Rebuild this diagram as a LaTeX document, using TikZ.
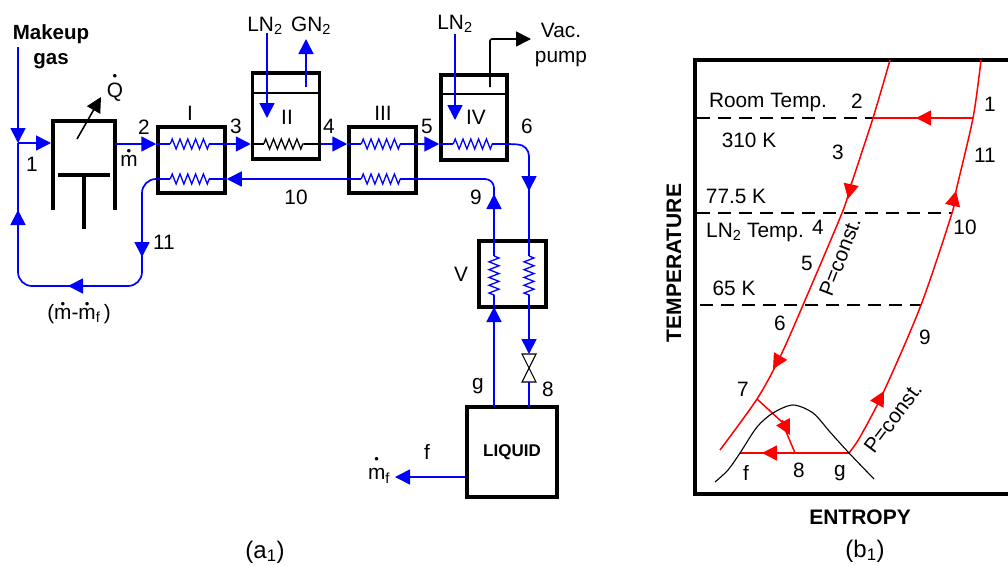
\documentclass[tikz,border=0pt]{standalone}
\usepackage{fontspec}
\setmainfont{Liberation Sans}
\usetikzlibrary{arrows.meta,decorations.pathmorphing}

\newcommand{\dotover}[2]{\ooalign{#2\cr\hfil\raisebox{#1}{\fontsize{13}{13}\selectfont\textbullet}\hfil\cr}}

\tikzset{
  every node/.style={font=\fontsize{20.8}{25}\selectfont,inner sep=0pt,align=center},
  tip/.style={-{Triangle[length=15pt,width=15pt]}},
  flow/.style={blue,line width=1.7pt},
  thick box/.style={draw,line width=3.5pt,minimum width=#1,inner sep=0pt},
  coil/.style={decorate,line width=1.3pt,decoration={zigzag,segment length=7.8pt,amplitude=5pt}},
  wire/.style={black,line width=3.5pt},
  fine/.style={black,line width=1.1pt},
  curve/.style={red,line width=1.5pt},
  level/.style={black,line width=1.1pt,dash pattern=on 13pt off 8pt},
  caption/.style={font=\fontsize{24}{28}\selectfont},
  axis name/.style={font=\bfseries\fontsize{21}{24}\selectfont},
}

\begin{document}
\begin{tikzpicture}[x=1pt,y=-1pt]
\useasboundingbox (0,0) rectangle (1008,565);

\node[thick box=67pt,minimum height=66pt] (hxI) at (191.5,160) {};
\node[thick box=67pt,minimum height=86pt] (bathII) at (286,116) {};
\node[thick box=67pt,minimum height=66pt] (hxIII) at (382.5,160) {};
\node[thick box=66pt,minimum height=85pt] (bathIV) at (474,117.5) {};
\node[thick box=67pt,minimum height=66pt] (hxV) at (512.5,274) {};
\node[thick box=90pt,minimum height=90pt,font=\bfseries\fontsize{17}{20}\selectfont] (liquid) at (512,452) {LIQUID};

\draw[wire] (53,210) -- (53,121) -- (115,121) -- (115,210);
\draw[wire] (58,175) -- (110,175);
\draw[wire] (84,175) -- (84,229);
\draw[fine,line width=1.6pt,tip] (77,139) -- (101,97);

\coordinate (m1) at (18,47);
\coordinate (j1) at (18,143);
\coordinate (c1) at (51,143);
\coordinate (c2) at (115,144);
\coordinate (i2) at (hxI.west |- c2);
\coordinate (i3) at (hxI.east |- c2);
\coordinate (i10) at (hxI.east |- 0,179);
\coordinate (i11) at (hxI.west |- 0,179);
\coordinate (b11) at (142,286);
\coordinate (b1) at (18,286);

\draw[flow,tip] (m1) -- (j1);
\draw[flow,tip] (j1) -- (c1);
\draw[flow,tip] (c2) -- (i2);
\draw[flow,rounded corners=14pt] (i11) -- (142,179) -- (b11) -- (b1) -- (j1);
\draw[flow,tip] (142,240) -- (142,257);
\draw[flow,tip] (90,286) -- (68,286);
\draw[flow,tip] (18,225) -- (18,210);

\draw[flow] (i2) -- ++(14,0) coordinate (a);
\draw[flow,coil] (a) -- ++(39,0) coordinate (a);
\draw[flow] (a) -- (i3);
\draw[flow] (i11) -- ++(14,0) coordinate (a);
\draw[flow,coil] (a) -- ++(39,0) coordinate (a);
\draw[flow] (a) -- (i10);

\coordinate (ii3) at (bathII.west |- c2);
\coordinate (ii4) at (bathII.east |- c2);
\draw[flow,tip] (i3) -- (ii3);
\draw[fine] (ii3) -- ++(13,0) coordinate (a);
\draw[fine,coil] (a) -- ++(40,0) coordinate (a);
\draw[fine] (a) -- (ii4);
\draw[fine] (bathII.west |- 0,93) -- (bathII.east |- 0,93);
\draw[flow,tip] (267,33) -- (267,118);
\draw[flow,tip] (306,87) -- (306,39);

\coordinate (iii4) at (hxIII.west |- c2);
\coordinate (iii5) at (hxIII.east |- c2);
\coordinate (iii10) at (hxIII.west |- 0,179);
\coordinate (iii9) at (hxIII.east |- 0,179);
\draw[flow,tip] (ii4) -- (iii4);
\draw[flow] (iii4) -- ++(14,0) coordinate (a);
\draw[flow,coil] (a) -- ++(39,0) coordinate (a);
\draw[flow] (a) -- (iii5);
\draw[flow] (iii10) -- ++(14,0) coordinate (a);
\draw[flow,coil] (a) -- ++(39,0) coordinate (a);
\draw[flow] (a) -- (iii9);
\draw[flow,tip] (iii10) -- (i10);

\coordinate (iv5) at (bathIV.west |- c2);
\coordinate (iv6) at (bathIV.east |- c2);
\draw[flow,tip] (iii5) -- (iv5);
\draw[flow] (iv5) -- ++(14,0) coordinate (a);
\draw[flow,coil] (a) -- ++(39,0) coordinate (a);
\draw[flow] (a) -- (iv6);
\draw[fine] (bathIV.west |- 0,94) -- (bathIV.east |- 0,94);
\draw[flow,tip] (455,34) -- (455,120);
\draw[fine,line width=1.6pt,tip,rounded corners=2pt] (490,87) -- (490,39) -- (531,39);

\coordinate (v9) at (494,241);
\coordinate (v6) at (529,241);
\coordinate (vg) at (494,307);
\coordinate (v8) at (529,307);
\draw[flow,rounded corners=11pt] (iv6) -- (529,145) -- (v6);
\draw[flow,tip] (529,170) -- (529,191);
\draw[flow,rounded corners=9pt] (v9) -- (494,179) -- (iii9);
\draw[flow,tip] (v9) -- (494,194);
\draw[flow] (v9) -- ++(0,15) coordinate (a);
\draw[flow,coil] (a) -- ++(0,39) coordinate (a);
\draw[flow] (a) -- (vg);
\draw[flow] (v6) -- ++(0,15) coordinate (a);
\draw[flow,coil] (a) -- ++(0,39) coordinate (a);
\draw[flow] (a) -- (v8);

\coordinate (lg) at (494,407);
\coordinate (l8) at (529,407);
\coordinate (valve) at (529,354);
\draw[flow,tip] (lg) -- (vg);
\draw[flow,tip] (v8) -- (valve);
\draw[fine] (522,354) -- (536,354) -- (522,382) -- (536,382) -- cycle;
\draw[flow] (529,382) -- (l8);
\coordinate (lf) at (liquid.west |- 0,477);
\coordinate (mf) at (395,477);
\draw[flow,tip] (lf) -- (mf);

\node[font=\bfseries\fontsize{20.5}{25}\selectfont] (makeup) at (51,46.5) {Makeup\\gas};
\node (qdot) at (115,90) {\dotover{16.5pt}{Q}};
\node (mdot) at (129,161) {\dotover{11pt}{m}};
\node (lbl1) at (32,164) {1};
\node (lbl2) at (144,127) {2};
\node (lbl3) at (236,126) {3};
\node (lbl4) at (329,126) {4};
\node (lbl5) at (427,126) {5};
\node (lbl6) at (527,126) {6};
\node (lbl9) at (476,197) {9};
\node (lbl10) at (296,197) {10};
\node (lbl11) at (164,242) {11};
\node (lblI) at (190,113) {I};
\node (lblII) at (287,117) {II};
\node (lblIII) at (383,113) {III};
\node (lblIV) at (476,117) {IV};
\node (lblV) at (461,274) {V};
\node (ln2a) at (265,26) {LN\textsubscript{2}};
\node (gn2) at (311,26) {GN\textsubscript{2}};
\node (ln2b) at (455,23.5) {LN\textsubscript{2}};
\node (vac) at (561,45.5) {Vac.\\pump};
\node (mflow) at (79,314) {(\dotover{11pt}{m}-\dotover{11pt}{m}\textsubscript{f}\,)};
\node (lblg) at (478,386) {g};
\node (lbl8) at (548,389) {8};
\node (lblf) at (427,452) {f};
\node (mfdot) at (379,476) {\dotover{16.5pt}{m}\textsubscript{f}};
\node[caption] (capa) at (265,552) {(a\textsubscript{1})};

\coordinate (ne) at (1008,60);
\coordinate (nw) at (695,60);
\coordinate (sw) at (695,494);
\coordinate (se) at (1008,494);
\draw[wire] (ne) -- (nw) -- (sw) -- (se);

\coordinate (t2) at (873,118);
\coordinate (t1) at (973,118);
\coordinate (t4) at (842,213);
\coordinate (t10) at (952,213);
\coordinate (t6) at (803,305);
\coordinate (t9) at (921,305);
\coordinate (t7) at (757,399);
\coordinate (tg) at (849,453);
\coordinate (tf) at (740,453);
\coordinate (t8) at (795,453);

\draw[level] (697,118) -- (t2);
\draw[level] (697,213) -- (t10);
\draw[level] (700,305) -- (t9);

\draw[curve] plot[smooth] coordinates {(890,60) (t2) (851,185) (t4) (t6) (780,357) (t7) (720,450)};
\draw[curve] plot[smooth] coordinates {(981,60) (t1) (956,191) (t10) (t9) (884,391) (860,437) (tg)};
\draw[curve] (t1) -- (t2);
\draw[curve,tip] (940,118) -- (916,118);
\draw[curve,tip] (851.5,183) -- (848,199);
\draw[curve,tip] (952.5,206) -- (956,191);
\draw[curve,tip] (780,357) -- (773,369);
\draw[curve,tip] (877,404) -- (884,391);
\draw[curve] (t7) -- (782,422) -- (t8);
\draw[curve,tip] (782,420) -- (790,435);
\draw[curve] (tg) -- (tf);
\draw[curve,tip] (790,453) -- (762,453);
\draw[fine] plot[smooth] coordinates {(715,482) (728,470) (tf) (757,427) (773,413) (793,405) (813,413) (830,432) (tg) (874,479)};

\node (roomT) at (768,103) {Room Temp.};
\node (k310) at (749,140) {310 K};
\node (k77) at (736,196) {77.5 K};
\node (lnT) at (755,232) {LN\textsubscript{2} Temp.};
\node (k65) at (734,288) {65 K};
\node (pt1) at (990,104) {1};
\node (pt2) at (857,101) {2};
\node (pt3) at (838,152) {3};
\node (pt4) at (818,227) {4};
\node (pt5) at (807,263) {5};
\node (pt6) at (780,323) {6};
\node (pt7) at (743,389) {7};
\node (pt8) at (799,470) {8};
\node (pt9) at (925,337) {9};
\node (pt10) at (965,227) {10};
\node (pt11) at (985,155) {11};
\node (ptf) at (746,473) {f};
\node (ptg) at (840,473) {g};
\node[rotate=69] (pconA) at (840,257) {P=const.};
\node[rotate=53] (pconB) at (893,418) {P=const.};
\node[rotate=90,axis name] (ylab) at (674,263) {TEMPERATURE};
\node[axis name] (xlab) at (860,517) {ENTROPY};
\node[caption] (capb) at (865,551) {(b\textsubscript{1})};
\end{tikzpicture}
\end{document}
